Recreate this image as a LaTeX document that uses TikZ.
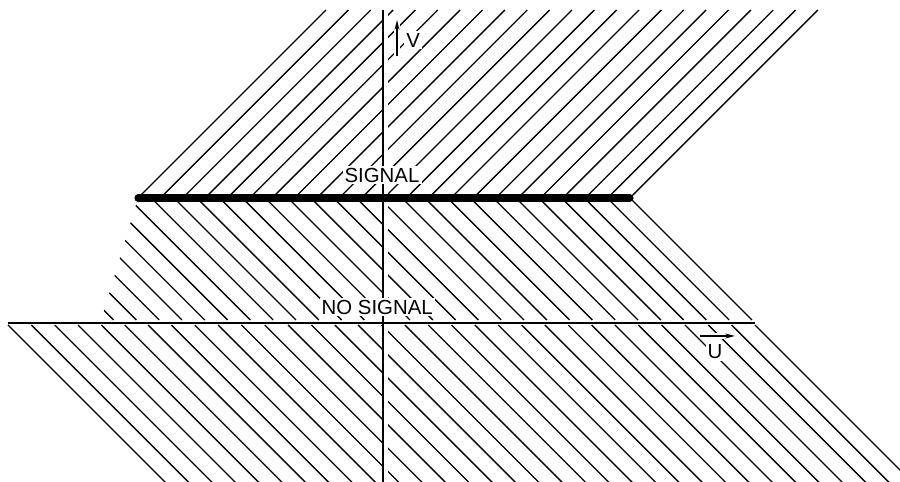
\documentclass[tikz,border=0pt]{standalone}
\usepackage{fontspec}
\setmainfont{Liberation Sans}
\usetikzlibrary{arrows.meta}
\tikzset{
  hatch/.style={
    line width=0.95pt,
    line cap=butt
  },
}
\tikzset{
  axisline/.style={
    line width=1.4pt
  },
  sigline/.style={
    line width=5pt,
    line cap=round
  },
  nosigline/.style={
    line width=1.4pt
  },
  lbl/.style={
    fill=white,
    inner sep=1.5pt,
    font=\fontsize{14.5}{16}\selectfont
  },
  dir/.style={
    line width=0.95pt,
    -{Stealth[length=7pt,width=3.5pt]},
    preaction={draw=white, line width=4pt, -}
  }
}

\begin{document}
\begin{tikzpicture}
        \useasboundingbox (0,0) rectangle (22.5,12.05);
        \clip (0,0) rectangle (22.5,12.05);

        \coordinate (sL) at (3.45,7.1);
        \coordinate (sR) at (15.75,7.1);
        \coordinate (nL) at (0.2,3.975);
        \coordinate (nR) at (18.875,3.975);
        \coordinate (vtop) at (9.575,11.8);
        \coordinate (vbot) at (9.575,0.0);

        % signal side
        \foreach \i in {0,...,22}
            \draw[hatch] (3.45+\i*0.559,7.1) --++ (4.7,4.7);

        % between the two lines
        \begin{scope}
            \clip (sL) -- (15.8,7.1) -- (18.95,3.95) -- (2.5,3.95) -- cycle;
            \foreach \i in {0,...,28}
                \draw[hatch] (15.75-\i*0.57,7.1) --++ (3.05,-3.05);
        \end{scope}

        % no signal side
        \foreach \i in {0,...,32}
            \draw[hatch] (0.2+\i*0.5836,3.925) --++ (4.3,-4.3);

        \fill[white] (9.6,0.0) rectangle (9.7,11.8);
        \draw[axisline] (vtop) -- (vbot);

        \node[lbl] (sig) at (9.55,7.675) {SIGNAL};
        \node[lbl] (nosig) at (9.43,4.375) {NO SIGNAL};
        \node[lbl] (vlab) at (10.33,11.05) {V};
        \node[lbl] (ulab) at (17.875,3.25) {U};

        \coordinate (va) at (9.925,10.65);
        \coordinate (vb) at (9.925,11.55);
        \coordinate (ua) at (17.5,3.65);
        \coordinate (ub) at (18.375,3.65);
        \draw[dir] (va) -- (vb);
        \draw[dir] (ua) -- (ub);

        \draw[sigline] (sL) -- (sR);
        \draw[nosigline] (nL) -- (nR);
\end{tikzpicture}
\end{document}
